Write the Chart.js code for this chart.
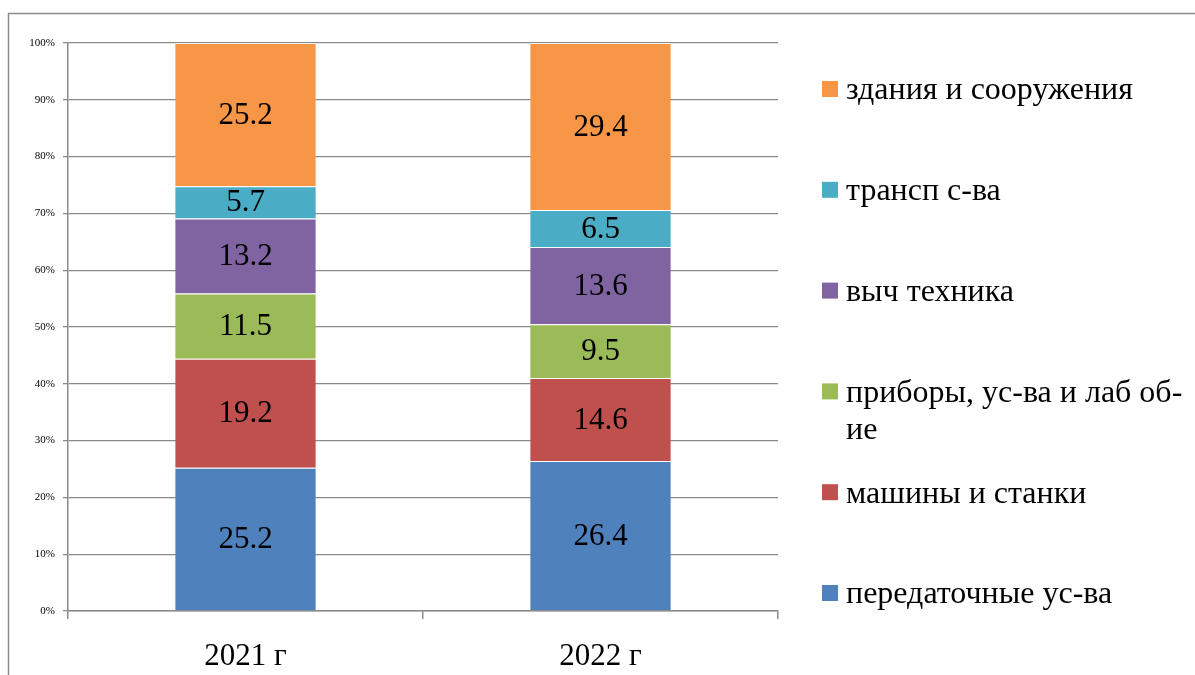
<!DOCTYPE html>
<html>
<head>
<meta charset="utf-8">
<script src="https://cdn.jsdelivr.net/npm/chart.js@4.4.0/dist/chart.umd.min.js"></script>
<style>
  html, body { margin: 0; padding: 0; background: #ffffff; }
  #wrap { position: relative; width: 1195px; height: 675px; }
</style>
</head>
<body>
<div id="wrap"><canvas id="c" width="1195" height="675"></canvas></div>
<script>
const categories = ['2021 г', '2022 г'];
const seriesNames = [
  'передаточные ус-ва',
  'машины и станки',
  ['приборы, ус-ва и лаб об-', 'ие'],
  'выч техника',
  'трансп с-ва',
  'здания и сооружения'
];
const peredatochnye = [25.2, 26.4];
const mashiny = [19.2, 14.6];
const pribory = [11.5, 9.5];
const vychTekhnika = [13.2, 13.6];
const transport = [5.7, 6.5];
const zdaniya = [25.2, 29.4];
const yTicks = [0, 10, 20, 30, 40, 50, 60, 70, 80, 90, 100];

const seriesValues = [peredatochnye, mashiny, pribory, vychTekhnika, transport, zdaniya];
const seriesColors = ['#4F81BD', '#C0504D', '#9BBB59', '#8064A2', '#4BACC6', '#F79646'];

const SERIF = "'Liberation Serif', 'Times New Roman', serif";
const GRID = '#8a8a8a';

const frame = {
  id: 'frame',
  beforeDraw(chart) {
    const ctx = chart.ctx;
    ctx.save();
    ctx.fillStyle = '#ffffff';
    ctx.fillRect(0, 0, chart.width, chart.height);
    ctx.strokeStyle = '#8c8c8c';
    ctx.lineWidth = 1.5;
    ctx.strokeRect(8.5, 13.5, 1400, 900);
    ctx.restore();
  }
};

const valueLabels = {
  id: 'valueLabels',
  afterDatasetsDraw(chart) {
    const ctx = chart.ctx;
    ctx.save();
    ctx.font = '31px ' + SERIF;
    ctx.fillStyle = '#000000';
    ctx.textAlign = 'center';
    ctx.textBaseline = 'middle';
    chart.data.datasets.forEach((ds, di) => {
      const meta = chart.getDatasetMeta(di);
      meta.data.forEach((el, i) => {
        const p = el.getProps(['x', 'y', 'base'], true);
        ctx.fillText(String(ds.data[i]), p.x, (p.y + p.base) / 2 + 1);
      });
    });
    ctx.restore();
  }
};

const sideLegend = {
  id: 'sideLegend',
  afterDraw(chart) {
    const ctx = chart.ctx;
    ctx.save();
    ctx.font = '32px ' + SERIF;
    ctx.fillStyle = '#000000';
    ctx.textAlign = 'left';
    ctx.textBaseline = 'middle';
    const ds = chart.data.datasets.slice().reverse();
    ds.forEach((d, i) => {
      const cy = 89 + i * 100.8;
      ctx.fillStyle = d.backgroundColor;
      ctx.fillRect(822, cy - 8, 16, 16);
      ctx.fillStyle = '#000000';
      const lines = Array.isArray(d.label) ? d.label : [d.label];
      lines.forEach((ln, k) => ctx.fillText(ln, 846, cy + 2 + k * 37));
    });
    ctx.restore();
  }
};

new Chart(document.getElementById('c'), {
  type: 'bar',
  data: {
    labels: categories,
    datasets: seriesValues.map((vals, i) => ({
      label: seriesNames[i],
      data: vals,
      backgroundColor: seriesColors[i],
      borderColor: 'rgba(255,255,255,0.55)',
      borderWidth: { top: 1, bottom: 0, left: 0, right: 0 },
      borderSkipped: false,
      barPercentage: 0.4,
      categoryPercentage: 0.99
    }))
  },
  options: {
    responsive: false,
    animation: false,
    events: [],
    layout: { padding: { left: 0, right: 417, top: 43, bottom: 0 } },
    plugins: {
      legend: { display: false },
      tooltip: { enabled: false },
      title: { display: false }
    },
    scales: {
      x: {
        stacked: true,
        offset: true,
        grid: {
          offset: true,
          drawOnChartArea: false,
          drawTicks: true,
          tickLength: 8,
          color: GRID,
          lineWidth: 1.5
        },
        border: { display: true, color: GRID, width: 1.5 },
        ticks: {
          font: { family: SERIF, size: 31 },
          color: '#000000',
          padding: 19,
          maxRotation: 0
        },
        afterFit(scale) { scale.height = 64; }
      },
      y: {
        stacked: true,
        min: 0,
        max: 100,
        afterBuildTicks(scale) { scale.ticks = yTicks.map(v => ({ value: v })); },
        grid: {
          color: GRID,
          lineWidth: 1.3,
          drawTicks: true,
          tickLength: 5
        },
        border: { display: true, color: GRID, width: 1.5 },
        ticks: {
          font: { family: SERIF, size: 11 },
          color: '#000000',
          padding: 8,
          callback: v => v + '%'
        },
        afterFit(scale) { scale.width = 68; }
      }
    }
  },
  plugins: [frame, valueLabels, sideLegend]
});
</script>
</body>
</html>
